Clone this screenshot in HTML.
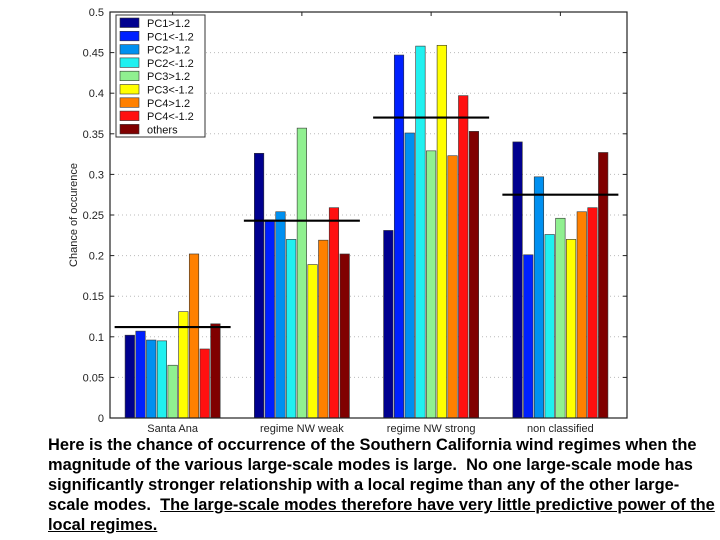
<!DOCTYPE html>
<html><head><meta charset="utf-8"><style>
body{margin:0;width:720px;height:540px;background:#fff;overflow:hidden;font-family:"Liberation Sans",sans-serif}
#cap{position:absolute;left:48px;top:435px;width:672px;font-size:16.4px;line-height:20px;color:#000;font-weight:bold;white-space:nowrap}
</style></head><body>
<svg id="chart" width="720" height="440" style="position:absolute;left:0;top:0"></svg>
<div id="cap">Here is the chance of occurrence of the Southern California wind regimes when the<br>magnitude of the various large-scale modes is large.&nbsp; No one large-scale mode has<br>significantly stronger relationship with a local regime than any of the other large-<br>scale modes.&nbsp; <u>The large-scale modes therefore have very little predictive power of the<br>local regimes.</u></div>
<script>
const categories=["Santa Ana","regime NW weak","regime NW strong","non classified"];
const series=["PC1>1.2","PC1<-1.2","PC2>1.2","PC2<-1.2","PC3>1.2","PC3<-1.2","PC4>1.2","PC4<-1.2","others"];
const santaAna=[0.102,0.107,0.096,0.095,0.065,0.131,0.202,0.085,0.116];
const nwWeak=[0.326,0.244,0.254,0.220,0.357,0.189,0.219,0.259,0.202];
const nwStrong=[0.231,0.447,0.351,0.458,0.329,0.459,0.323,0.397,0.353];
const nonClassified=[0.340,0.201,0.297,0.226,0.246,0.220,0.254,0.259,0.327];
const meanLines=[0.112,0.243,0.370,0.275];
const yTicks=[0,0.05,0.1,0.15,0.2,0.25,0.3,0.35,0.4,0.45,0.5];
const tickLabels=["0","0.05","0.1","0.15","0.2","0.25","0.3","0.35","0.4","0.45","0.5"];
const colors=["#00008f","#0020ff","#0090f0","#20f0f0","#90f090","#ffff00","#ff8000","#ff1010","#800000"];
const groups=[santaAna,nwWeak,nwStrong,nonClassified];
const svg=document.getElementById('chart');const NS="http://www.w3.org/2000/svg";
const L=110,R=627,T=12,B=418;
const y=v=>B-(v/0.5)*(B-T);
const gw=(R-L)/categories.length;
const gx=i=>L+gw*(i+0.5)-2;
const step=10.7,bw=9.5;
function mk(t,a,p){const e=document.createElementNS(NS,t);for(const k in a)e.setAttribute(k,a[k]);(p||svg).appendChild(e);return e;}
yTicks.forEach((v,i)=>{
 if(i>0&&i<yTicks.length-1){const g=mk('line',{x1:L,x2:R,y1:y(v),y2:y(v),stroke:'#bbb','stroke-dasharray':'1 3'});
 
 }
 const t=mk('text',{x:L-6,y:y(v)+4,'text-anchor':'end','font-size':11,fill:'#222'});t.textContent=tickLabels[i];
 
 
 mk('line',{x1:L,x2:L+4,y1:y(v),y2:y(v),stroke:'#222'});mk('line',{x1:R,x2:R-4,y1:y(v),y2:y(v),stroke:'#222'});
});
categories.forEach((c,i)=>{
 mk('line',{x1:gx(i),x2:gx(i),y1:T,y2:T+4,stroke:'#222'});
 groups[i].forEach((v,j)=>{
  const r=mk('rect',{x:gx(i)+(j-4)*step-bw/2,y:y(v),width:bw,height:B-y(v),fill:colors[j],stroke:'#333','stroke-width':0.6});
  
  
 });
 const m=mk('line',{x1:gx(i)-58,x2:gx(i)+58,y1:y(meanLines[i]),y2:y(meanLines[i]),stroke:'#000','stroke-width':2.2});
 
 
 const t=mk('text',{x:gx(i),y:B+14,'text-anchor':'middle','font-size':11,fill:'#222'});t.textContent=c;
 
 
});
const ax=mk('rect',{x:L,y:T,width:R-L,height:B-T,fill:'none',stroke:'#222','stroke-width':1.2});


const yl=mk('text',{x:0,y:0,transform:'translate(77,215) rotate(-90)','text-anchor':'middle','font-size':11,fill:'#222'});yl.textContent='Chance of occurence';


const lg=mk('g',{});


mk('rect',{x:116,y:15,width:89,height:122,fill:'#fff',stroke:'#333'},lg);
series.forEach((s,j)=>{
 mk('rect',{x:120,y:18+j*13.3,width:19,height:9.5,fill:colors[j],stroke:'#333','stroke-width':0.6},lg);
 const t=mk('text',{x:147,y:27+j*13.3,'font-size':11,fill:'#111'},lg);t.textContent=s;
 
 
});
</script>
</body></html>
